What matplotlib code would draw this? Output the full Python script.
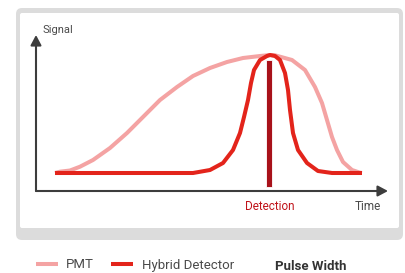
import matplotlib
matplotlib.use("Agg")
import matplotlib.pyplot as plt
from matplotlib.patches import FancyBboxPatch, FancyArrowPatch
from matplotlib.lines import Line2D

# curve readings (time, signal) in chart units
pmt_time = [19, 24, 34, 44, 57, 74, 91, 107, 124, 141, 157, 174, 191, 207, 224,
            234, 239, 256, 269, 279, 286, 291, 296, 301, 307, 316, 324, 326]
pmt_signal = [18, 19.3, 20.5, 24.3, 31, 43, 58, 74, 91, 104, 115, 123, 129, 133, 135,
              136, 135.7, 131, 121, 104, 88, 71, 54, 41, 29, 21, 18.3, 18]

hybrid_time = [19, 157, 174, 187, 197, 204, 208, 212, 215, 218, 224, 231, 234,
               239, 244, 249, 252, 254, 257, 262, 271, 282, 296, 326]
hybrid_signal = [18, 18, 21, 28, 41, 58, 74, 91, 108, 121, 131, 135, 136,
                 135, 131, 118, 101, 81, 58, 41, 28, 20, 18, 18]

detection_time = 233.5
detection_bottom = 4
detection_top = 131

series_labels = ["PMT", "Hybrid Detector"]
series_colors = ["#f4a3a3", "#e3241b"]
bar_color = "#a8121a"
axis_color = "#3d3d3d"
text_color = "#4a4a4a"
font = ["Liberation Sans Narrow", "Roboto", "DejaVu Sans"]

W, H = 406, 273
fig = plt.figure(figsize=(W / 100, H / 100), dpi=100)

# background frame (pixel coordinates)
bg = fig.add_axes([0, 0, 1, 1])
bg.set_xlim(0, W)
bg.set_ylim(H, 0)
bg.axis("off")
bg.add_patch(FancyBboxPatch((16, 8), 387, 232, boxstyle="round,pad=0,rounding_size=6",
                            facecolor="#dcdcdc", edgecolor="none"))
bg.add_patch(FancyBboxPatch((20, 13), 379, 215, boxstyle="round,pad=0,rounding_size=2",
                            facecolor="white", edgecolor="none"))

# chart axes: left 36px, right 388px, bottom 191px, top 35px
ax = fig.add_axes([36 / W, 1 - 191 / H, 352 / W, 156 / H])
ax.set_xlim(0, 352)
ax.set_ylim(0, 156)
ax.axis("off")
ax.patch.set_alpha(0)

# axis arrows
for end in [(352, 0), (0, 156)]:
    ax.add_patch(FancyArrowPatch((0, 0), end, arrowstyle="-|>,head_length=6,head_width=3.2",
                                 color=axis_color, lw=1.5, shrinkA=0, shrinkB=0,
                                 mutation_scale=1, clip_on=False, zorder=2))

ax.plot(pmt_time, pmt_signal, color=series_colors[0], lw=2.9,
        solid_joinstyle="round", solid_capstyle="butt", zorder=3)
ax.plot(hybrid_time, hybrid_signal, color=series_colors[1], lw=2.9,
        solid_joinstyle="round", solid_capstyle="butt", zorder=4)
ax.bar(detection_time, detection_top - detection_bottom, bottom=detection_bottom,
       width=6, color=bar_color, edgecolor="white", linewidth=0.6, zorder=5)

ax.text(7, 161, "Signal", family=font, fontsize=8, color=text_color,
        ha="left", va="center")
ax.text(detection_time, -16, "Detection", family=font, fontsize=8.5, color="#c0141b",
        ha="center", va="center")
ax.text(332, -16, "Time", family=font, fontsize=8.5, color=text_color,
        ha="center", va="center")

handles = [Line2D([], [], color=c, lw=2.9, solid_capstyle="butt") for c in series_colors]
fig.legend(handles, series_labels, ncol=2, loc="center left",
           bbox_to_anchor=(36 / W, 1 - 265 / H), frameon=False, borderpad=0,
           borderaxespad=0, handlelength=1.65, handletextpad=0.65, columnspacing=1.3,
           prop={"family": font, "size": 9.5}, labelcolor=text_color)
fig.text(275 / W, 1 - 266 / H, "Pulse Width", family=font, fontsize=9.5,
         fontweight="bold", color="#333333", ha="left", va="center")

fig.savefig("out.png", dpi=100, facecolor="white")
